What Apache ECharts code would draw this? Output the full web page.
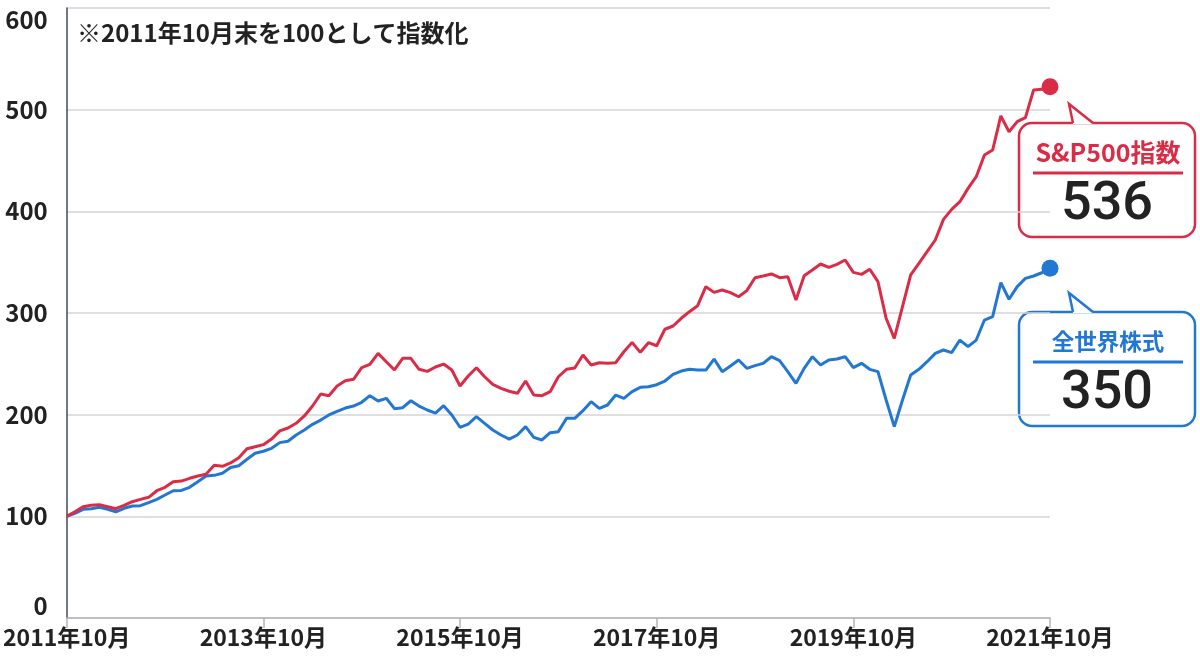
<!DOCTYPE html>
<html>
<head>
<meta charset="utf-8">
<script src="https://cdn.jsdelivr.net/npm/echarts@6/dist/echarts.min.js"></script>
<style>
html, body { margin: 0; padding: 0; background: #fff; }
#main { width: 1200px; height: 662px; }
</style>
</head>
<body>
<div id="main"></div>
<script>
// 月次カテゴリ（2011年10月〜2021年10月）
var months = [];
for (var i = 0; i <= 120; i++) {
    var t = 2011 * 12 + 9 + i;
    months.push(Math.floor(t / 12) + '年' + (t % 12 + 1) + '月');
}

// S&P500指数（2011年10月末=100）
var spxValues = [
    100, 104.5, 109.5, 110.8, 111.5, 109.5, 107.5, 110.8, 114.4, 116.7,
    118.7, 125.2, 128.5, 134, 134.7, 137.4, 139.7, 141.3, 150.2, 149.2,
    152.5, 157.7, 166.5, 168.5, 170.5, 176, 184, 186.9, 191.5, 198.7,
    208.5, 220.3, 218.7, 228.2, 233.4, 234.8, 246.2, 249.5, 260.3, 252.1,
    244, 255.4, 255.4, 244.6, 242.6, 246.9, 249.8, 243.9, 228.2, 238,
    246.2, 237.3, 229.8, 225.9, 223, 221, 233.1, 219.3, 218.7, 222.6,
    237.3, 244.6, 245.9, 258.7, 248.8, 251.1, 250.5, 251.1, 261.9, 271.1,
    261.3, 270.8, 267.8, 284, 287.2, 294.8, 301.3, 307.2, 325.9, 320.3,
    322.6, 320, 316, 322, 334.7, 336.4, 338.4, 334.7, 335.7, 312.8,
    336.7, 342.3, 348.2, 344.9, 347.9, 352.1, 340, 338, 343, 330.8,
    294.8, 275.1, 306.2, 337.4, 348.9, 360.3, 371.8, 392.1, 401.9, 409.5,
    422.6, 434.1, 455.4, 460.3, 493.8, 478.3, 488.2, 492.1, 519.3, 520,
    522.6
];

// 全世界株式（2011年10月末=100）
var worldValues = [
    100, 103, 106.9, 107.5, 108.9, 106.9, 104.5, 107.9, 110.2, 110.5,
    113.4, 116.7, 121, 125.2, 125.5, 128.5, 134, 139.7, 140.3, 142.3,
    148, 149.8, 156.1, 162, 164, 166.9, 172.5, 173.8, 180, 184.9,
    190.5, 194.7, 199.7, 203.3, 206.5, 208.5, 212.2, 218.7, 213.4, 216.1,
    205.9, 206.9, 213.7, 208.5, 204.6, 201.6, 208.8, 199.7, 187.6, 190.8,
    198, 191.5, 184.9, 180, 176, 180, 188.2, 177.7, 175.1, 182.3,
    183.3, 196.4, 196.4, 203.9, 212.8, 206.2, 209.5, 219.3, 216.1, 222.6,
    226.9, 227.5, 229.5, 233.1, 239.7, 242.9, 244.6, 243.9, 243.9, 254.7,
    242.3, 247.9, 253.8, 245.6, 248.2, 250.5, 257, 253.1, 242.3, 230.8,
    245.6, 257, 248.8, 253.8, 254.7, 257, 246.2, 250.5, 244.6, 242.3,
    214.4, 188.2, 214.4, 239, 244.6, 252.1, 260.3, 263.6, 261, 273.4,
    266.9, 273.4, 293.1, 296.4, 329.8, 313.5, 325.9, 334.1, 336.4, 339.6,
    344
];

var seriesNames = ['S&P500指数', '全世界株式'];
var latestLabels = ['536', '350'];
var noteText = '※2011年10月末を100として指数化';

var RED = '#db2c47';
var BLUE = '#2277d3';
var FONT = '"Noto Sans CJK JP", "Noto Sans", sans-serif';

// 吹き出し（角丸枠＋しっぽ）
function callout(top, color, title, titleSize, value) {
    return {
        type: 'group',
        z: 100,
        children: [{
            type: 'rect',
            shape: { x: 1019, y: top, width: 176, height: 114, r: 13 },
            style: { fill: '#fff', stroke: color, lineWidth: 2.5 }
        }, {
            type: 'polygon',
            shape: { points: [[1073, top + 1], [1069, top - 19], [1093, top + 1]] },
            style: { fill: '#fff' }
        }, {
            type: 'polyline',
            shape: { points: [[1073, top], [1069, top - 19], [1093, top]] },
            style: { stroke: color, lineWidth: 2.5, fill: null }
        }, {
            type: 'text',
            style: {
                text: title, x: 1108, y: top + 29, align: 'center', verticalAlign: 'middle',
                fill: color, fontSize: titleSize, fontWeight: 'bold', fontFamily: FONT
            }
        }, {
            type: 'line',
            shape: { x1: 1033, y1: top + 50, x2: 1183, y2: top + 50 },
            style: { stroke: color, lineWidth: 3 }
        }, {
            type: 'text',
            style: {
                text: value, x: 1107, y: top + 82, align: 'center', verticalAlign: 'middle',
                fill: '#222', fontSize: 54, fontWeight: 500, fontFamily: 'Roboto, ' + FONT
            }
        }]
    };
}

var chart = echarts.init(document.getElementById('main'));

var option = {
    animation: false,
    textStyle: { fontFamily: FONT },
    grid: { left: 64, right: 150, top: 8, bottom: 44, containLabel: false },
    xAxis: {
        type: 'category',
        data: months,
        boundaryGap: false,
        axisLine: { lineStyle: { color: '#b5b5b5', width: 1.5 } },
        axisTick: { interval: 23, length: 10, lineStyle: { color: '#b5b5b5', width: 1.5 } },
        axisLabel: {
            interval: 23,
            margin: 8,
            color: '#222',
            fontSize: 23,
            fontWeight: 'bold',
            fontFamily: FONT
        },
        splitLine: { show: false }
    },
    yAxis: {
        type: 'value',
        min: 0,
        max: 600,
        interval: 100,
        axisLine: { show: true, lineStyle: { color: '#3f4b5b', width: 1.5 } },
        axisTick: { show: false },
        axisLabel: {
            margin: 19,
            color: '#222',
            fontSize: 24,
            fontWeight: 'bold',
            fontFamily: FONT,
            verticalAlignMaxLabel: 'top',
            verticalAlignMinLabel: 'bottom'
        },
        splitLine: { lineStyle: { color: '#d4d4d4', width: 1.5 } }
    },
    series: [{
        name: seriesNames[0],
        type: 'line',
        data: spxValues,
        symbol: 'none',
        z: 3,
        lineStyle: { color: RED, width: 3 },
        itemStyle: { color: RED },
        markPoint: {
            symbol: 'circle',
            symbolSize: 17,
            itemStyle: { color: RED },
            label: { show: false },
            data: [{ coord: [spxValues.length - 1, spxValues[spxValues.length - 1]] }]
        }
    }, {
        name: seriesNames[1],
        type: 'line',
        data: worldValues,
        symbol: 'none',
        z: 2,
        lineStyle: { color: BLUE, width: 3 },
        itemStyle: { color: BLUE },
        markPoint: {
            symbol: 'circle',
            symbolSize: 17,
            itemStyle: { color: BLUE },
            label: { show: false },
            data: [{ coord: [worldValues.length - 1, worldValues[worldValues.length - 1]] }]
        }
    }],
    graphic: [{
        type: 'text',
        z: 100,
        style: {
            text: noteText, x: 77, y: 33, verticalAlign: 'middle',
            fill: '#222', fontSize: 24, fontWeight: 'bold', fontFamily: FONT
        }
    },
    callout(123, RED, seriesNames[0], 25, latestLabels[0]),
    callout(312, BLUE, seriesNames[1], 22.5, latestLabels[1])]
};

chart.setOption(option);

window.onresize = function () {
    chart.resize();
};
</script>
</body>
</html>
